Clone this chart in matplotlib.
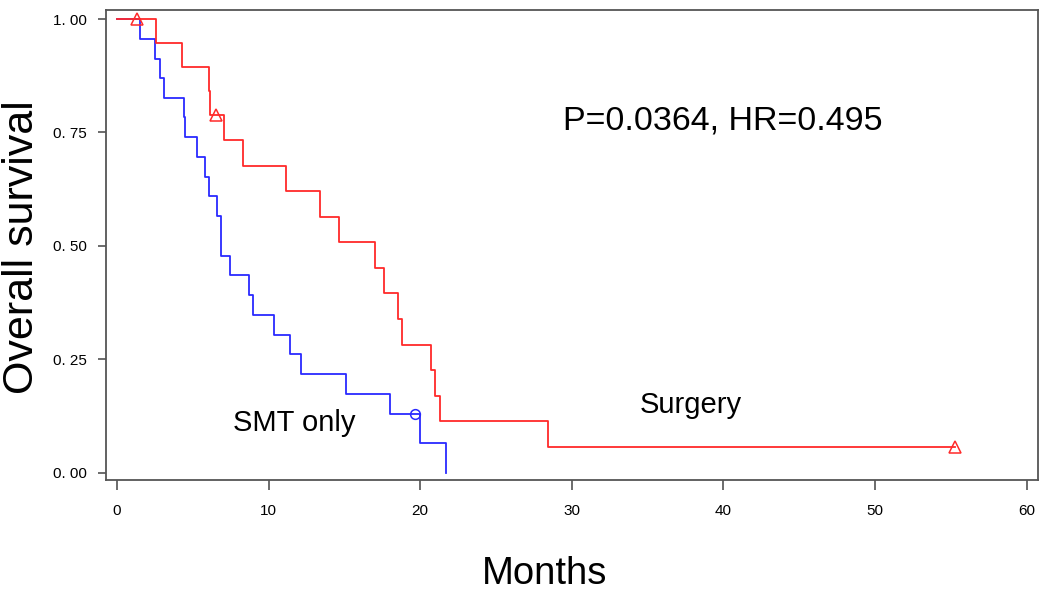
import matplotlib
matplotlib.use("Agg")
import matplotlib.pyplot as plt

plt.rcParams['font.family'] = ['Liberation Sans', 'DejaVu Sans']

# ---- data ----
surgery_times = [0, 2.57, 4.26, 6.07, 6.16, 7.06, 8.34, 11.12, 13.39, 14.66, 16.99,
                 17.63, 18.53, 18.80, 20.72, 20.99, 21.32, 28.40, 55.3]
surgery_surv = [1.0, 0.947, 0.895, 0.842, 0.789, 0.733, 0.677, 0.620, 0.564, 0.508,
                0.451, 0.395, 0.338, 0.282, 0.226, 0.169, 0.113, 0.056, 0.056]
surgery_cens_t = [1.3, 6.56, 55.3]
surgery_cens_s = [1.0, 0.789, 0.056]

smt_times = [0, 1.51, 2.50, 2.85, 3.11, 4.41, 4.49, 5.31, 5.81, 6.07, 6.58, 6.86,
             7.48, 8.68, 8.95, 10.39, 11.40, 12.11, 15.09, 18.01, 20.02, 21.73]
smt_surv = [1.0, 0.957, 0.913, 0.870, 0.826, 0.783, 0.739, 0.696, 0.652, 0.609,
            0.565, 0.478, 0.435, 0.391, 0.348, 0.304, 0.261, 0.217, 0.174, 0.130,
            0.065, 0.0]
smt_cens_t = [19.67]
smt_cens_s = [0.130]

x_ticks = [0, 10, 20, 30, 40, 50, 60]
x_ticklabels = ["0", "10", "20", "30", "40", "50", "60"]
y_ticks = [0.0, 0.25, 0.50, 0.75, 1.0]
y_ticklabels = ["0. 00", "0. 25", "0. 50", "0. 75", "1. 00"]

annotation = "P=0.0364, HR=0.495"
label_smt = "SMT only"
label_surgery = "Surgery"

# ---- figure ----
fig = plt.figure(figsize=(10.5, 5.96), dpi=100)
ax = fig.add_axes([106/1050, 1 - 480/596, (1038-106)/1050, (480-10)/596])

red = '#ff2a2a'
blue = '#2a2aff'

ax.step(smt_times, smt_surv, where='post', color=blue, lw=1.3)
ax.plot(smt_cens_t, smt_cens_s, linestyle='none', marker='o', ms=7,
        mfc='none', mec=blue, mew=1.1)
ax.step(surgery_times, surgery_surv, where='post', color=red, lw=1.3)
ax.plot(surgery_cens_t, surgery_cens_s, linestyle='none', marker='^', ms=8,
        mfc='none', mec=red, mew=1.1)

ax.set_xlim(-0.72, 60.75)
ax.set_ylim(-0.0165, 1.020)

ax.set_xticks(x_ticks)
ax.set_xticklabels(x_ticklabels)
ax.set_yticks(y_ticks)
ax.set_yticklabels(y_ticklabels)
ax.tick_params(axis='x', direction='out', length=7.5, width=1.1, pad=10,
               labelsize=11, color='#444444', labelcolor='black')
ax.tick_params(axis='y', direction='out', length=6, width=1.1, pad=8,
               labelsize=11, color='#444444', labelcolor='black')

for sp in ax.spines.values():
    sp.set_color('#555555')
    sp.set_linewidth(1.3)

ax.text(29.4, 0.775, annotation, fontsize=24.5, ha='left', va='center')
ax.text(7.65, 0.11, label_smt, fontsize=21, ha='left', va='center')
ax.text(34.5, 0.15, label_surgery, fontsize=21, ha='left', va='center')

fig.text(545/1050, 1 - 574/596, "Months", fontsize=27.5, ha='center', va='center')
fig.text(22/1050, 1 - 247/596, "Overall survival", fontsize=31, ha='center',
         va='center', rotation=90)

fig.savefig("out.png", dpi=100)
